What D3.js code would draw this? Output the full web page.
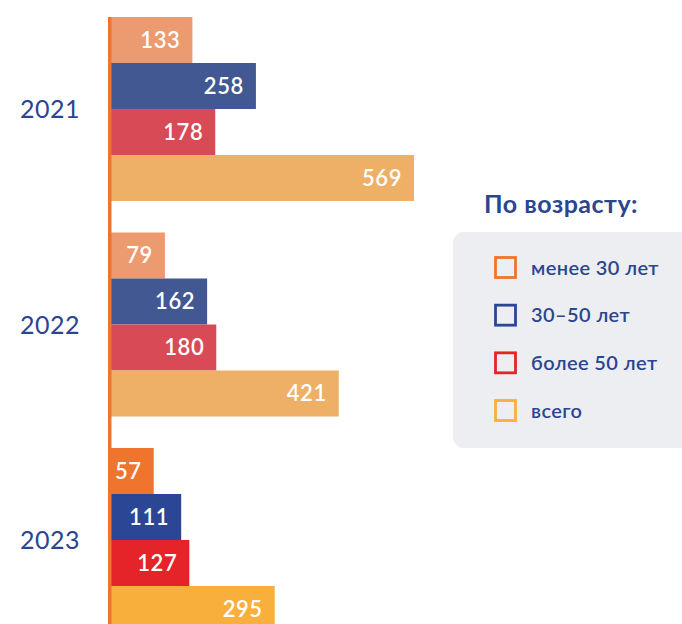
<!DOCTYPE html>
<html>
<head>
<meta charset="utf-8">
<script src="https://cdn.jsdelivr.net/npm/d3@7"></script>
<style>
  body { margin: 0; background: #fff; }
  text { font-family: Lato, "Open Sans", sans-serif; }
</style>
</head>
<body>
<div id="chart"></div>
<script>
// data
var years = ["2021", "2022", "2023"];
var series = ["менее 30 лет", "30–50 лет", "более 50 лет", "всего"];
var under30 = [133, 79, 57];
var from30to50 = [258, 162, 111];
var over50 = [178, 180, 127];
var total = [569, 421, 295];

var legendTitle = "По возрасту:";

// colours: last year bright, earlier years faded
var colors = ["#EF742E", "#2A4694", "#E42428", "#F8AF3C"];
var fadedColors = ["#EC9A70", "#425892", "#D84B56", "#EDB066"];
var textBlue = "#2B4590";

var width = 682, height = 624;

var svg = d3.select("#chart").append("svg")
    .attr("width", width)
    .attr("height", height);

var values = [under30, from30to50, over50, total];
var rows = [];
years.forEach(function(y, i) {
  series.forEach(function(s, j) {
    rows.push({year: y, yi: i, series: s, si: j, value: values[j][i]});
  });
});

// scales
var x = d3.scaleLinear().domain([-33, 569]).range([108, 414]);
var y0 = d3.scaleBand().domain(years).range([17, 632]).paddingInner(0.146).paddingOuter(0);
var y1 = d3.scaleBand().domain(series).range([0, y0.bandwidth()]);

// bars
svg.selectAll("rect.bar")
    .data(rows)
  .enter().append("rect")
    .attr("class", "bar")
    .attr("x", x(-33))
    .attr("y", function(d) { return y0(d.year) + y1(d.series); })
    .attr("width", function(d) { return x(d.value) - x(-33); })
    .attr("height", y1.bandwidth())
    .attr("fill", function(d) {
      return d.yi === years.length - 1 ? colors[d.si] : fadedColors[d.si];
    });

// value labels
svg.selectAll("text.val")
    .data(rows)
  .enter().append("text")
    .attr("class", "val")
    .attr("x", function(d) { return x(d.value) - 12; })
    .attr("y", function(d) { return y0(d.year) + y1(d.series) + y1.bandwidth() / 2; })
    .attr("dy", "0.36em")
    .attr("text-anchor", "end")
    .attr("fill", "#fff")
    .style("font-size", "22px")
    .style("font-weight", 600)
    .style("letter-spacing", "0.6px")
    .text(function(d) { return d.value; });

// axis line
svg.append("rect")
    .attr("x", 108)
    .attr("y", 17)
    .attr("width", 3.5)
    .attr("height", height - 17)
    .attr("fill", "#EF742E");

// year labels
svg.selectAll("text.year")
    .data(years)
  .enter().append("text")
    .attr("class", "year")
    .attr("x", 50)
    .attr("y", function(d) { return y0(d) + y0.bandwidth() / 2; })
    .attr("dy", "0.36em")
    .attr("text-anchor", "middle")
    .attr("fill", textBlue)
    .style("font-size", "25px")
    .style("letter-spacing", "0.5px")
    .text(function(d) { return d; });

// legend
svg.append("text")
    .attr("x", 484)
    .attr("y", 213)
    .attr("fill", textBlue)
    .style("font-size", "25px")
    .style("font-weight", 700)
    .style("letter-spacing", "0.5px")
    .text(legendTitle);

svg.append("rect")
    .attr("x", 453)
    .attr("y", 232)
    .attr("width", 260)
    .attr("height", 216)
    .attr("rx", 11)
    .attr("fill", "#EDEEF2");

var legendY = d3.scalePoint().domain(series).range([267.5, 410.5]);

var item = svg.selectAll("g.legend")
    .data(series)
  .enter().append("g")
    .attr("class", "legend")
    .attr("transform", function(d) { return "translate(495," + legendY(d) + ")"; });

item.append("rect")
    .attr("x", 0.5)
    .attr("y", -10)
    .attr("width", 20)
    .attr("height", 20)
    .attr("fill", "none")
    .attr("stroke", function(d, i) { return colors[i]; })
    .attr("stroke-width", 2.8);

item.append("text")
    .attr("x", 36)
    .attr("dy", "0.36em")
    .attr("fill", textBlue)
    .style("font-size", "20px")
    .style("font-weight", 600)
    .style("letter-spacing", "0.4px")
    .text(function(d) { return d; });
</script>
</body>
</html>
